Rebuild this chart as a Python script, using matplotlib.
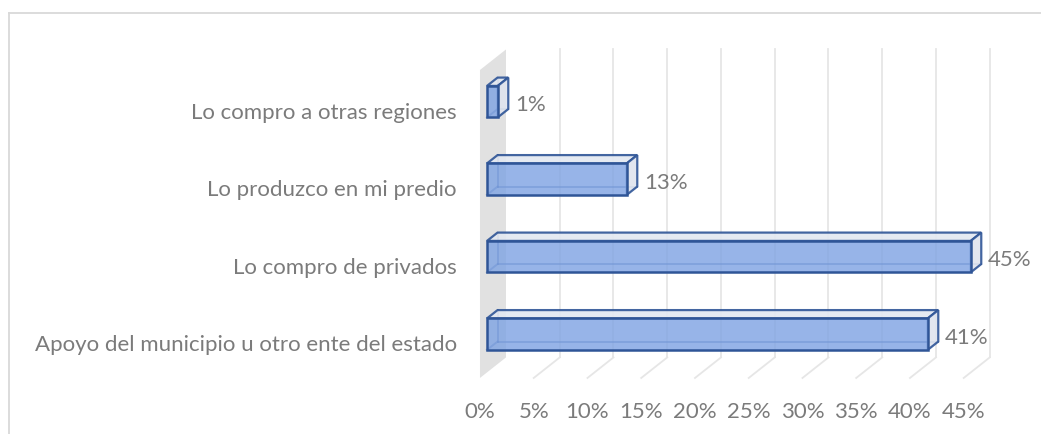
import matplotlib
matplotlib.use('Agg')
import matplotlib.pyplot as plt
from matplotlib.patches import Polygon
from matplotlib.lines import Line2D

plt.rcParams['font.family'] = ['Lato', 'DejaVu Sans']

# categories from bottom to top
categories = ['Apoyo del municipio u otro ente del estado',
              'Lo compro de privados',
              'Lo produzco en mi predio',
              'Lo compro a otras regiones']
values = [41, 45, 13, 1]
ticks = [0, 5, 10, 15, 20, 25, 30, 35, 40, 45]
tick_labels = ['%d%%' % t for t in ticks]

# oblique 3d look: offset of the back plane in data units
DX, DY = 2.42, 0.265
D0, D1 = 0.27, 0.675      # bar front / back depth
HALF = 0.203              # half bar height
FLOOR_Y, TOP_Y = -0.494, 3.48

text_col = '#7b7b7b'
grid_col = '#e6e6e6'
edge_col = '#2f5597'
fs = 16

fig = plt.figure(figsize=(10.41, 4.34), dpi=100)
ax = fig.add_axes([0, 0, 1, 1])
ax.set_xlim(-44.65, 52.19)
ax.set_ylim(-1.217, 4.383)
ax.axis('off')

# chart frame
fx = 8.5 / 1041
fy = 1 - 13 / 434
fig.add_artist(Line2D([fx, fx], [0, fy], transform=fig.transFigure, color='#d9d9d9', lw=1.3))
fig.add_artist(Line2D([fx, 1], [fy, fy], transform=fig.transFigure, color='#d9d9d9', lw=1.3))

# side wall
ax.add_patch(Polygon([(0, FLOOR_Y), (0, TOP_Y), (DX, TOP_Y + DY), (DX, FLOOR_Y + DY)],
                     closed=True, facecolor='#e1e1e1', edgecolor='none', zorder=1))

# back wall and floor gridlines
for t in ticks[1:]:
    ax.plot([t + DX, t + DX], [FLOOR_Y + DY, TOP_Y + DY], color=grid_col, lw=1.3, zorder=1)
    ax.plot([t, t + DX], [FLOOR_Y, FLOOR_Y + DY], color=grid_col, lw=1.3, zorder=1)


def corner(x, y, d):
    return (x + d * DX, y + d * DY)


for c, v in enumerate(values):
    lo, hi = c - HALF, c + HALF
    fbl, fbr, ftr, ftl = corner(0, lo, D0), corner(v, lo, D0), corner(v, hi, D0), corner(0, hi, D0)
    bbl, bbr, btr, btl = corner(0, lo, D1), corner(v, lo, D1), corner(v, hi, D1), corner(0, hi, D1)

    # hidden edges, seen through the front
    for p, q in [(bbl, btl), (bbl, bbr), (fbl, bbl)]:
        ax.plot([p[0], q[0]], [p[1], q[1]], color=edge_col, lw=1.4, alpha=0.55, zorder=2)

    # top and right faces
    ax.add_patch(Polygon([ftl, ftr, btr, btl], closed=True, facecolor='#e3e8f1',
                         edgecolor=edge_col, lw=1.6, alpha=0.9, zorder=3))
    ax.add_patch(Polygon([fbr, bbr, btr, ftr], closed=True, facecolor='#dfe4ee',
                         edgecolor=edge_col, lw=1.6, alpha=0.9, zorder=3))
    # front face
    ax.add_patch(Polygon([fbl, fbr, ftr, ftl], closed=True, facecolor='#80a4e3',
                         edgecolor='none', alpha=0.82, zorder=4))
    ax.add_patch(Polygon([fbl, fbr, ftr, ftl], closed=True, facecolor='none',
                         edgecolor=edge_col, lw=1.8, zorder=5))

    ax.text(v + D1 * DX + 0.6, c + 0.027, '%d%%' % v, ha='left', va='center',
            color=text_col, fontsize=fs)
    ax.text(-2.14, c - 0.07, categories[c], ha='right', va='center',
            color=text_col, fontsize=fs)

for t, lab in zip(ticks, tick_labels):
    ax.text(t, -0.929, lab, ha='center', va='center', color=text_col, fontsize=fs)

fig.savefig('out.png', dpi=100)
